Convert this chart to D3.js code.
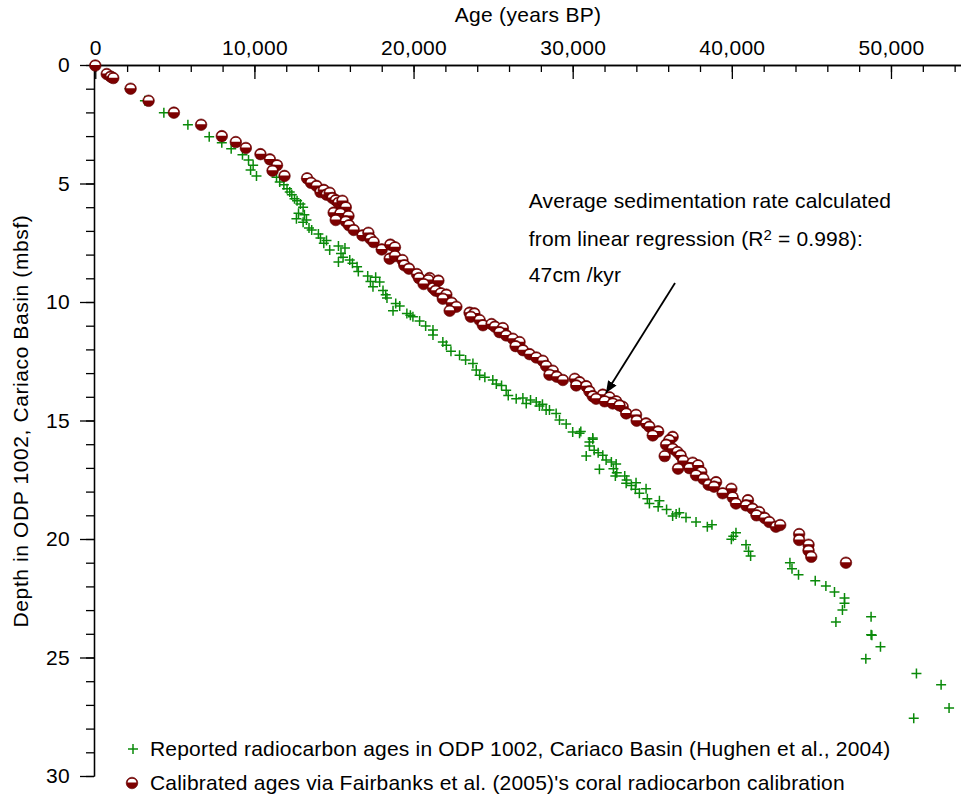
<!DOCTYPE html>
<html><head><meta charset="utf-8">
<script src="https://cdn.jsdelivr.net/npm/d3@7"></script>
<style>
html,body{margin:0;padding:0;background:#fff;}
svg text{font-family:"Liberation Sans",Arial,Helvetica,sans-serif;fill:#000;}
</style></head>
<body><svg id="chart" width="961" height="798"></svg>
<script>
// Reported radiocarbon ages (years BP) and depths (mbsf)
const radiocarbonAges = [0,2150,3120,4310,5820,7160,7950,8540,9250,9630,9920,9760,10130,11390,11590,11850,12050,12220,12350,12520,12680,12890,13060,12770,13140,12640,13270,13060,13430,13600,14020,14150,14530,14360,14730,15280,15690,15440,15570,15280,15990,16160,16450,16530,17120,17620,17290,17450,17870,18080,18250,18330,18880,19130,18710,19580,19800,19960,20380,20760,21220,21220,21840,22060,22350,22890,23270,23730,23940,24150,24480,24980,25200,25530,25820,25950,26450,26870,27080,27710,27910,28330,28960,29170,29590,30000,30430,31260,27350,28100,28540,30510,31260,31050,31050,31350,31600,30850,31890,32100,32430,32730,31680,32560,32770,32680,33270,33390,33360,33690,33980,33940,34190,34610,34690,34820,35450,35370,35900,36500,36280,36700,37120,37750,38460,38750,40260,40090,39970,40890,41050,41180,43650,43780,44190,45240,45910,46450,47080,47080,46950,46540,48750,48750,48800,49340,48420,51600,53150,53650,51430];
const radiocarbonDepths = [0.02,1.00,1.51,2.01,2.52,3.03,3.28,3.53,3.79,4.01,4.23,4.43,4.68,4.74,4.94,5.05,5.22,5.36,5.47,5.64,5.73,5.87,6.00,6.26,6.32,6.49,6.54,6.63,6.88,6.96,7.13,7.30,7.41,7.52,7.81,7.64,7.72,7.95,8.11,8.31,8.23,8.37,8.51,8.71,8.90,8.96,9.13,9.36,9.16,9.52,9.69,9.83,10.06,10.17,10.37,10.48,10.56,10.62,10.80,11.01,11.18,11.39,11.69,11.83,12.08,12.25,12.45,12.59,12.87,13.09,13.18,13.29,13.46,13.52,13.72,13.94,14.08,14.05,14.28,14.22,14.39,14.56,14.70,14.98,15.15,15.49,15.54,15.74,14.14,14.31,14.56,15.46,15.79,15.91,16.08,16.25,16.36,16.50,16.47,16.67,16.75,16.84,17.06,17.04,17.20,17.34,17.34,17.51,17.65,17.74,17.63,17.90,18.07,17.88,18.30,18.50,18.39,18.64,18.75,18.95,19.03,18.89,19.09,19.28,19.48,19.40,19.74,19.88,20.01,20.24,20.52,20.72,21.00,21.25,21.51,21.76,21.98,22.24,22.49,22.71,23.00,23.50,23.28,24.04,24.06,24.55,25.05,25.67,26.15,27.13,27.56];

// Calibrated ages (Fairbanks et al. 2005) and depths (mbsf)
const calibratedAges = [0,720,970,1130,2220,3350,4940,6650,7950,8830,9460,10380,10970,11420,11140,11890,13310,13560,13900,14150,14360,14530,14730,14900,15110,15280,15530,15740,14980,15400,15910,15110,15740,15940,16240,16790,17160,17290,17490,18000,18540,18830,18500,18830,19300,19420,19710,20210,20340,21010,20930,20630,21220,21560,21390,21720,22060,21840,22390,22690,22270,23520,23820,23600,24150,24360,24900,25110,25610,25400,25820,26240,26660,26410,26870,27290,27710,28120,28330,28750,28540,29000,29380,30130,30430,30220,30850,31050,31260,31890,32310,32730,33140,33360,31470,32010,32520,32940,33980,34020,34610,34820,35370,35030,36280,36070,35870,36280,36580,36780,36950,35780,36620,37540,37330,37880,38080,37750,38210,38540,39010,38880,39970,39420,40050,40260,41010,40890,41300,41720,41550,42060,42350,42770,43040,44230,44230,44820,44820,44990,47170];
const calibratedDepths = [0.02,0.38,0.49,0.55,1.00,1.51,2.01,2.52,3.00,3.25,3.50,3.76,3.98,4.23,4.46,4.68,4.78,4.97,5.10,5.36,5.27,5.47,5.39,5.61,5.70,5.81,5.73,6.00,6.23,6.26,6.37,6.54,6.60,6.76,6.96,7.19,7.08,7.33,7.47,7.78,7.58,7.69,8.17,8.06,8.23,8.45,8.59,8.82,8.99,8.99,9.07,9.24,9.41,9.10,9.52,9.63,9.69,9.86,10.03,10.20,10.37,10.45,10.48,10.62,10.76,10.98,10.93,11.04,11.10,11.27,11.41,11.55,11.69,11.86,12.03,12.20,12.34,12.48,12.70,12.90,13.07,13.15,13.29,13.24,13.38,13.52,13.55,13.77,13.97,13.91,14.02,14.19,14.42,14.70,14.08,14.19,14.28,14.36,14.76,15.01,15.12,15.26,15.46,15.63,15.69,15.83,16.02,16.19,16.33,16.47,16.70,16.50,17.03,16.78,17.01,16.89,17.17,17.31,17.46,17.71,17.60,17.79,17.88,18.07,18.24,18.50,18.36,18.58,18.72,18.86,19.00,19.11,19.28,19.48,19.41,19.79,20.04,20.24,20.49,20.75,21.00];

const ageTicks = [0,10000,20000,30000,40000,50000];
const ageMinorTicks = d3.range(0,54001,2000);
const depthTicks = [0,5,10,15,20,25,30];
const depthMinorTicks = d3.range(0,31,1);

const legendLabels = [
  "Reported radiocarbon ages in ODP 1002, Cariaco Basin (Hughen et al., 2004)",
  "Calibrated ages via Fairbanks et al. (2005)'s coral radiocarbon calibration"
];
const annotationLines = ["Average sedimentation rate calculated","from linear regression (R","47cm /kyr"];
// arrow in data units: [age, depth]
const arrowFrom = [36430, 9.2];
const arrowTo = [32090, 13.84];
const annotationAnchor = [27240, 6.03];

const FS = 21;
const svg = d3.select("#chart");
const x = d3.scaleLinear().domain([-80, 54400]).range([94, 961]);
const y = d3.scaleLinear().domain([0, 30]).range([65, 776]);

const GREEN = "#0a8a0a", RED = "#7d0000";

const defs = svg.append("defs");
defs.append("marker").attr("id","arrow").attr("viewBox","0 0 12 10")
  .attr("refX",12).attr("refY",5).attr("markerWidth",12).attr("markerHeight",10)
  .attr("markerUnits","userSpaceOnUse").attr("orient","auto")
  .append("path").attr("d","M0,0L12,5L0,10Z").attr("fill","#000");

// axes
const xMinor = svg.append("g").attr("transform",`translate(0,${y(0)})`)
  .call(d3.axisTop(x).tickValues(ageMinorTicks).tickSize(-7).tickSizeOuter(0).tickFormat(""));
const xMajor = svg.append("g").attr("transform",`translate(0,${y(0)})`)
  .call(d3.axisTop(x).tickValues(ageTicks).tickSize(-14).tickSizeOuter(0).tickPadding(10).tickFormat(d3.format(",")));
const yMinor = svg.append("g").attr("transform",`translate(${x.range()[0]},0)`)
  .call(d3.axisLeft(y).tickValues(depthMinorTicks).tickSize(8).tickSizeOuter(0).tickFormat(""));
const yMajor = svg.append("g").attr("transform",`translate(${x.range()[0]},0)`)
  .call(d3.axisLeft(y).tickValues(depthTicks).tickSize(14).tickSizeOuter(0).tickPadding(10));
[xMinor,xMajor,yMinor,yMajor].forEach(g=>{
  g.selectAll("path,line").attr("stroke","#000").attr("stroke-width",1.3);
  g.selectAll("text").attr("font-size",FS).attr("font-family","Liberation Sans, Arial, sans-serif")
    .style("letter-spacing","0.3px");
});

// axis titles
svg.append("text").attr("x",528).attr("y",22).attr("text-anchor","middle")
  .attr("font-size",FS).style("letter-spacing","0.3px").text("Age (years BP)");
svg.append("text").attr("transform","translate(28,421) rotate(-90)").attr("text-anchor","middle")
  .attr("font-size",FS).style("letter-spacing","0.6px").text("Depth in ODP 1002, Cariaco Basin (mbsf)");

// markers
const plusPath = "M-5,0H5M0,-5V5";
function drawPlus(g){ g.append("path").attr("d",plusPath).attr("stroke",GREEN).attr("stroke-width",1.5).attr("fill","none"); }
function drawBall(g){
  g.append("circle").attr("r",5.8).attr("fill",RED).attr("stroke","#5a0000").attr("stroke-width",0.6);
  g.append("path").attr("d","M-4.4,-0.4A4.4,3.8 0 0 1 4.4,-0.4Z").attr("fill","#fff");
}

const greenData = radiocarbonAges.map((a,i)=>({age:a, depth:radiocarbonDepths[i]}));
const redData = calibratedAges.map((a,i)=>({age:a, depth:calibratedDepths[i]}));

svg.append("g").selectAll("g").data(greenData).join("g")
  .attr("transform",d=>`translate(${x(d.age)},${y(d.depth)})`).each(function(){drawPlus(d3.select(this));});
svg.append("g").selectAll("g").data(redData).join("g")
  .attr("transform",d=>`translate(${x(d.age)},${y(d.depth)})`).each(function(){drawBall(d3.select(this));});

// annotation
const ax = x(annotationAnchor[0]), ay = y(annotationAnchor[1]);
svg.append("text").attr("x",ax).attr("y",ay).attr("font-size",FS).style("letter-spacing","0.15px").text(annotationLines[0]);
const t2 = svg.append("text").attr("x",ax).attr("y",ay+38.5).attr("font-size",FS).style("letter-spacing","0.15px");
t2.append("tspan").text(annotationLines[1]);
t2.append("tspan").attr("dy",-6).attr("font-size",15).text("2");
t2.append("tspan").attr("dy",6).text(" = 0.998):");
svg.append("text").attr("x",ax).attr("y",ay+74).attr("font-size",FS).style("letter-spacing","0.15px").text(annotationLines[2]);

svg.append("line").attr("x1",x(arrowFrom[0])).attr("y1",y(arrowFrom[1]))
  .attr("x2",x(arrowTo[0])).attr("y2",y(arrowTo[1]))
  .attr("stroke","#000").attr("stroke-width",1.8).attr("marker-end","url(#arrow)");

// legend
const lg = svg.append("g");
const l1 = lg.append("g").attr("transform","translate(133,749)"); drawPlus(l1);
lg.append("text").attr("x",150).attr("y",756).attr("font-size",FS).style("letter-spacing","0.2px").text(legendLabels[0]);
const l2 = lg.append("g").attr("transform","translate(132,783)"); drawBall(l2);
lg.append("text").attr("x",150).attr("y",790).attr("font-size",FS).style("letter-spacing","0.2px").text(legendLabels[1]);
</script></body></html>
